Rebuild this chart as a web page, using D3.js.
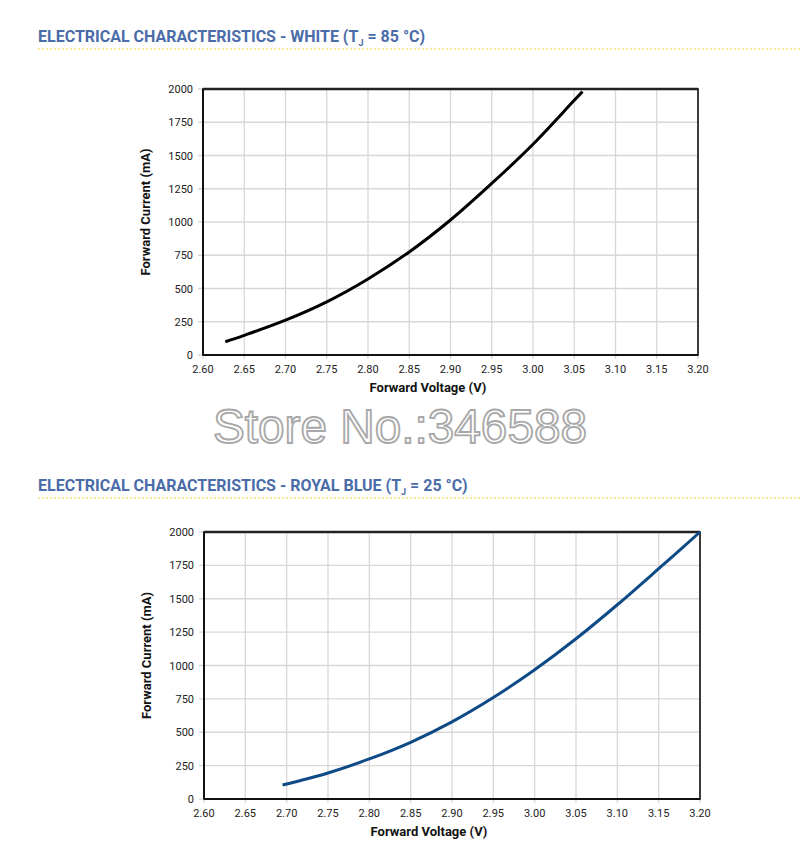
<!DOCTYPE html>
<html><head><meta charset="utf-8">
<script src="https://cdn.jsdelivr.net/npm/d3@7"></script>
<style>body{margin:0;background:#fff;}svg{display:block;font-family:Roboto,"Open Sans",sans-serif;}</style>
</head><body>
<svg id="c" width="800" height="857"></svg>
<script>
// ---- data ----
const xTicks = [2.60,2.65,2.70,2.75,2.80,2.85,2.90,2.95,3.00,3.05,3.10,3.15,3.20];
const yTicks = [0,250,500,750,1000,1250,1500,1750,2000];
const whiteVoltage = [2.627,2.65,2.70,2.75,2.80,2.85,2.90,2.95,3.00,3.05,3.06];
const whiteCurrent = [100,148,262,400,572,775,1015,1290,1585,1915,1980];
const blueVoltage = [2.695,2.75,2.80,2.85,2.90,2.95,3.00,3.05,3.10,3.15,3.20];
const blueCurrent = [105,195,300,425,578,760,968,1200,1455,1725,2000];
const titles = ["ELECTRICAL CHARACTERISTICS - WHITE (T", "ELECTRICAL CHARACTERISTICS - ROYAL BLUE (T"];
const titleTails = [" = 85 °C)", " = 25 °C)"];
const xLabel = "Forward Voltage (V)";
const yLabel = "Forward Current (mA)";
const watermark = "Store No.:346588";

const svg = d3.select("#c");

function header(y, i){
  const t = svg.append("text").attr("x",38).attr("y",y)
    .attr("fill","#4a6ca8").attr("font-size",16).attr("font-weight",700);
  t.append("tspan").text(titles[i]);
  t.append("tspan").attr("font-size",9).attr("dy",4).text("J");
  t.append("tspan").attr("dy",-4).text(titleTails[i]);
  svg.append("line").attr("x1",38).attr("x2",800).attr("y1",y+7).attr("y2",y+7)
    .attr("stroke","#f2d23c").attr("stroke-width",1.2).attr("stroke-dasharray","2,2");
}

function chart(box, vx, vy, color){
  const x = d3.scaleLinear().domain([2.6,3.2]).range([box.l, box.r]);
  const y = d3.scaleLinear().domain([0,2000]).range([box.b, box.t]);
  const g = svg.append("g");
  // grid
  g.append("g").selectAll("line").data(xTicks).join("line")
    .attr("x1",d=>x(d)).attr("x2",d=>x(d)).attr("y1",box.t).attr("y2",box.b+4)
    .attr("stroke","#d8d8d8").attr("stroke-width",1.3);
  g.append("g").selectAll("line").data(yTicks).join("line")
    .attr("x1",box.l-5).attr("x2",box.r).attr("y1",d=>y(d)).attr("y2",d=>y(d))
    .attr("stroke","#d8d8d8").attr("stroke-width",1.3);
  // frame
  g.append("rect").attr("x",box.l).attr("y",box.t).attr("width",box.r-box.l).attr("height",box.b-box.t)
    .attr("fill","none").attr("stroke","#111").attr("stroke-width",1.6);
  g.append("line").attr("x1",box.l).attr("x2",box.r).attr("y1",box.t).attr("y2",box.t).attr("stroke","#222").attr("stroke-width",2.5);
  g.append("line").attr("x1",box.l).attr("x2",box.r).attr("y1",box.b).attr("y2",box.b).attr("stroke","#111").attr("stroke-width",2);
  g.append("line").attr("x1",box.l).attr("x2",box.l).attr("y1",box.t).attr("y2",box.b).attr("stroke","#111").attr("stroke-width",2);
  // tick labels
  g.append("g").selectAll("text").data(xTicks).join("text")
    .attr("x",d=>x(d)).attr("y",box.b+18).attr("text-anchor","middle")
    .attr("font-size",11).attr("fill","#222").text(d=>d.toFixed(2));
  g.append("g").selectAll("text").data(yTicks).join("text")
    .attr("x",box.l-10).attr("y",d=>y(d)+4).attr("text-anchor","end")
    .attr("font-size",11).attr("fill","#222").text(d=>d);
  // axis titles
  g.append("text").attr("x",box.l+225).attr("y",box.b+37).attr("text-anchor","middle")
    .attr("font-size",13).attr("font-weight",700).attr("fill","#111").text(xLabel);
  g.append("text").attr("transform",`translate(${box.l-53},${(box.t+box.b)/2-10}) rotate(-90)`)
    .attr("text-anchor","middle").attr("font-size",13).attr("font-weight",700).attr("fill","#111").text(yLabel);
  // curve
  const pts = vx.map((v,i)=>[v,vy[i]]);
  g.append("path").datum(pts)
    .attr("d", d3.line().x(d=>x(d[0])).y(d=>y(d[1])).curve(d3.curveCatmullRom))
    .attr("fill","none").attr("stroke",color).attr("stroke-width",3).attr("stroke-linecap","butt");
}

header(42,0);
chart({l:203,r:698,t:89,b:355}, whiteVoltage, whiteCurrent, "#000");
header(491,1);
chart({l:204,r:700,t:532,b:799}, blueVoltage, blueCurrent, "#0e4a86");

svg.append("text").attr("x",213).attr("y",443).attr("textLength",374).attr("lengthAdjust","spacingAndGlyphs")
  .attr("font-family","'Liberation Sans',Arial,sans-serif").attr("font-size",48)
  .attr("fill","#fff").attr("stroke","#a8a8a8").attr("stroke-width",1.8).text(watermark);
</script>
</body></html>
